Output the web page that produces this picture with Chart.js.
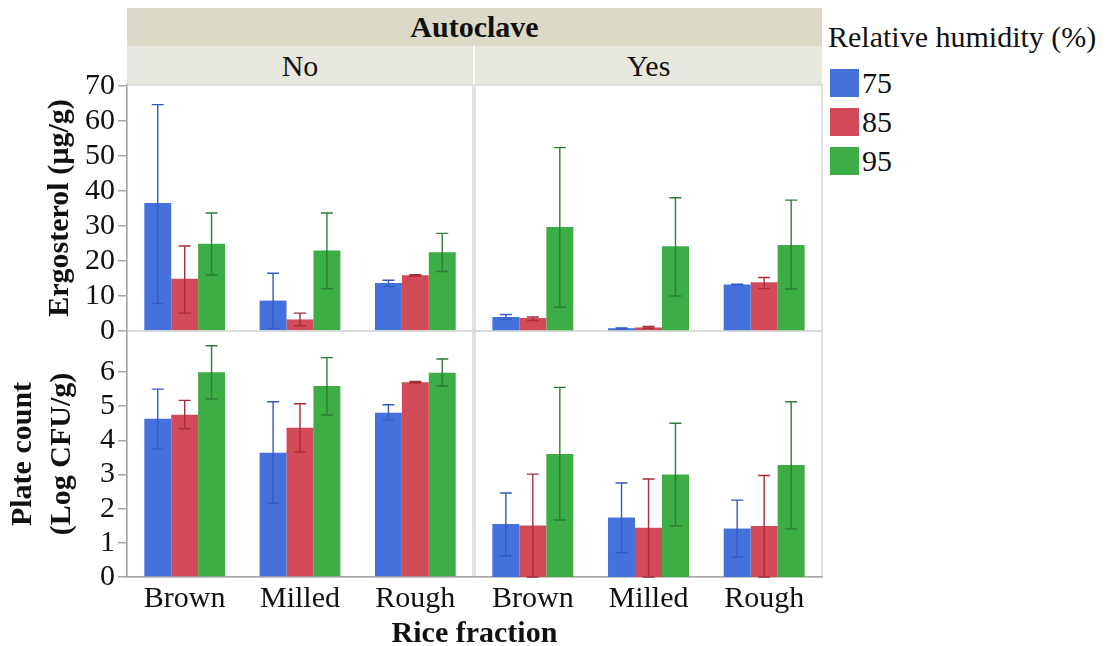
<!DOCTYPE html>
<html lang="en">
<head>
    <meta charset="UTF-8">
    <title>Ergosterol and plate count by rice fraction</title>
    <script src="https://cdn.jsdelivr.net/npm/chart.js"></script>
    <style>
        body { margin: 0; background: #fff; font-family: 'Liberation Serif', 'Times New Roman', serif; color: #111; }
        #wrap { position: relative; width: 1109px; height: 646px; overflow: hidden; }
        canvas { position: absolute; }
        .band { position: absolute; display: flex; align-items: center; justify-content: center; font-size: 30px; box-sizing: border-box; }
        .outer { left: 127px; top: 8px; width: 695px; height: 38px; background: #dcd9c9; font-weight: bold; }
        .sub { top: 46px; height: 39px; background: #e8e7dd; }
        .legend-title { position: absolute; left: 828px; top: 18px; font-size: 30px; line-height: 38px; white-space: nowrap; }
        .legend-item { position: absolute; left: 830px; font-size: 30px; line-height: 28px; white-space: nowrap; }
        .legend-item span { display: inline-block; width: 29px; height: 28px; vertical-align: top; margin-right: 3px; }
        .xtitle { position: absolute; left: 127px; width: 695px; top: 615px; text-align: center; font-size: 30px; font-weight: bold; line-height: 34px; }
    </style>
</head>
<body>
<div id="wrap">
    <div class="band outer">Autoclave</div>
    <div class="band sub" style="left:127px; width:346px;">No</div>
    <div class="band sub" style="left:475px; width:347px;">Yes</div>

    <div class="legend-title">Relative humidity (%)</div>
    <div id="legend"></div>

    <canvas id="ergoNo" width="474" height="270" style="left:0; top:75px;"></canvas>
    <canvas id="ergoYes" width="349" height="270" style="left:474px; top:75px;"></canvas>
    <canvas id="plateNo" width="474" height="325" style="left:0; top:321px;"></canvas>
    <canvas id="plateYes" width="349" height="325" style="left:474px; top:321px;"></canvas>

    <div class="xtitle">Rice fraction</div>
</div>

<script>
    const fractions = ['Brown', 'Milled', 'Rough'];
    const humidity = ['75', '85', '95'];
    const ergoTicks = [0, 10, 20, 30, 40, 50, 60, 70];
    const plateTicks = [0, 1, 2, 3, 4, 5, 6];

    // rows follow humidity (75, 85, 95), columns follow fractions
    const ergoNoMean = [[36.6, 8.7, 13.7], [14.9, 3.3, 15.9], [24.9, 23.0, 22.5]];
    const ergoNoLow  = [[7.9, 0.7, 12.7], [5.1, 1.5, 15.7], [16.0, 12.1, 17.0]];
    const ergoNoHigh = [[64.7, 16.5, 14.5], [24.3, 5.1, 16.1], [33.7, 33.7, 27.9]];

    const ergoYesMean = [[4.0, 0.8, 13.3], [3.7, 1.0, 13.9], [29.7, 24.2, 24.6]];
    const ergoYesLow  = [[3.4, 0.7, 13.2], [3.0, 0.8, 12.1], [6.8, 10.0, 12.0]];
    const ergoYesHigh = [[4.7, 0.9, 13.4], [4.0, 1.3, 15.3], [52.4, 38.1, 37.4]];

    const plateNoMean = [[4.63, 3.64, 4.81], [4.75, 4.37, 5.70], [5.99, 5.59, 5.98]];
    const plateNoLow  = [[3.75, 2.16, 4.60], [4.34, 3.66, 5.68], [5.21, 4.74, 5.59]];
    const plateNoHigh = [[5.50, 5.13, 5.04], [5.17, 5.07, 5.72], [6.77, 6.42, 6.38]];

    const plateYesMean = [[1.55, 1.74, 1.42], [1.51, 1.44, 1.49], [3.60, 3.00, 3.28]];
    const plateYesLow  = [[0.62, 0.71, 0.58], [0, 0, 0], [1.67, 1.50, 1.41]];
    const plateYesHigh = [[2.46, 2.75, 2.25], [3.01, 2.87, 2.97], [5.55, 4.50, 5.13]];

    const barColors = ['#4471dc', '#d24a58', '#3dad45'];
    const errColors = ['#3459c4', '#a82c3c', '#2d7d38'];
    const serif = "'Liberation Serif', 'Times New Roman', serif";

    // legend squares
    const legend = document.getElementById('legend');
    humidity.forEach((h, i) => {
        const item = document.createElement('div');
        item.className = 'legend-item';
        item.style.top = (69 + i * 39) + 'px';
        item.innerHTML = '<span style="background:' + barColors[i] + '"></span>' + h;
        legend.appendChild(item);
    });

    // light frame round each panel, drawn before the axes
    const framePlugin = {
        id: 'frame',
        beforeDraw(chart) {
            const a = chart.chartArea;
            const ctx = chart.ctx;
            ctx.save();
            ctx.strokeStyle = '#d9d9d9';
            ctx.lineWidth = 1.5;
            ctx.strokeRect(a.left, a.top, a.right - a.left, a.bottom - a.top);
            ctx.restore();
        }
    };

    const errorBarPlugin = {
        id: 'errorBars',
        afterDatasetsDraw(chart) {
            const ctx = chart.ctx;
            const yScale = chart.scales.y;
            chart.data.datasets.forEach((ds, d) => {
                const meta = chart.getDatasetMeta(d);
                meta.data.forEach((bar, i) => {
                    const yLo = yScale.getPixelForValue(ds.errLow[i]);
                    const yHi = yScale.getPixelForValue(ds.errHigh[i]);
                    ctx.save();
                    ctx.strokeStyle = ds.errColor;
                    ctx.lineWidth = 1.4;
                    ctx.beginPath();
                    ctx.moveTo(bar.x, yLo);
                    ctx.lineTo(bar.x, yHi);
                    ctx.moveTo(bar.x - 6, yHi);
                    ctx.lineTo(bar.x + 6, yHi);
                    ctx.moveTo(bar.x - 6, yLo);
                    ctx.lineTo(bar.x + 6, yLo);
                    ctx.stroke();
                    ctx.restore();
                });
            });
        }
    };

    function makePanel(id, means, lows, highs, yMax, ticks, opts) {
        const datasets = humidity.map((h, k) => ({
            label: h,
            data: means[k],
            errLow: lows[k],
            errHigh: highs[k],
            errColor: errColors[k],
            backgroundColor: barColors[k],
            categoryPercentage: 0.7,
            barPercentage: 1.0
        }));

        new Chart(document.getElementById(id), {
            type: 'bar',
            data: { labels: fractions, datasets: datasets },
            plugins: [framePlugin, errorBarPlugin],
            options: {
                responsive: false,
                animation: false,
                devicePixelRatio: 1,
                layout: { padding: opts.padding },
                plugins: { legend: { display: false }, tooltip: { enabled: false } },
                scales: {
                    x: {
                        display: opts.showX,
                        grid: { display: false, drawTicks: false },
                        border: { display: true, color: '#a6a6a6', width: 1.5 },
                        ticks: { color: '#111', padding: 4, maxRotation: 0, autoSkip: false, font: { family: serif, size: 30 } },
                        afterFit: (scale) => {
                            scale.height = opts.showX ? 40 : 0;
                            scale.paddingLeft = 0;
                            scale.paddingRight = 0;
                        }
                    },
                    y: {
                        display: opts.showY,
                        min: 0,
                        max: yMax,
                        afterBuildTicks: (scale) => { scale.ticks = ticks.map(v => ({ value: v })); },
                        afterFit: (scale) => {
                            scale.width = opts.showY ? 127 : 0;
                            scale.paddingTop = 0;
                            scale.paddingBottom = 0;
                        },
                        grid: { drawOnChartArea: false, drawTicks: true, tickLength: 9, color: '#a6a6a6', lineWidth: 1.5 },
                        border: { display: true, color: '#a6a6a6', width: 1.5 },
                        ticks: { color: '#111', padding: 3, autoSkip: false, font: { family: serif, size: 30 } },
                        title: opts.title
                    }
                }
            }
        });
    }

    makePanel('ergoNo', ergoNoMean, ergoNoLow, ergoNoHigh, 70.3, ergoTicks, {
        padding: { top: 10, bottom: 14, left: 0, right: 1 },
        showX: false, showY: true,
        title: {
            display: true, text: 'Ergosterol (\u00b5g/g)', color: '#111',
            font: { family: serif, size: 30, weight: 'bold', lineHeight: 1.2 },
            padding: { top: 42, bottom: 0 }
        }
    });
    makePanel('ergoYes', ergoYesMean, ergoYesLow, ergoYesHigh, 70.3, ergoTicks, {
        padding: { top: 10, bottom: 14, left: 1, right: 1 },
        showX: false, showY: false, title: { display: false }
    });
    makePanel('plateNo', plateNoMean, plateNoLow, plateNoHigh, 7.2, plateTicks, {
        padding: { top: 10, bottom: 29, left: 0, right: 1 },
        showX: true, showY: true,
        title: {
            display: true, text: ['Plate count', '(Log CFU/g)'], color: '#111',
            font: { family: serif, size: 30, weight: 'bold', lineHeight: 1.3 },
            padding: { top: 4, bottom: 0 }
        }
    });
    makePanel('plateYes', plateYesMean, plateYesLow, plateYesHigh, 7.2, plateTicks, {
        padding: { top: 10, bottom: 29, left: 1, right: 1 },
        showX: true, showY: false, title: { display: false }
    });
</script>
</body>
</html>
